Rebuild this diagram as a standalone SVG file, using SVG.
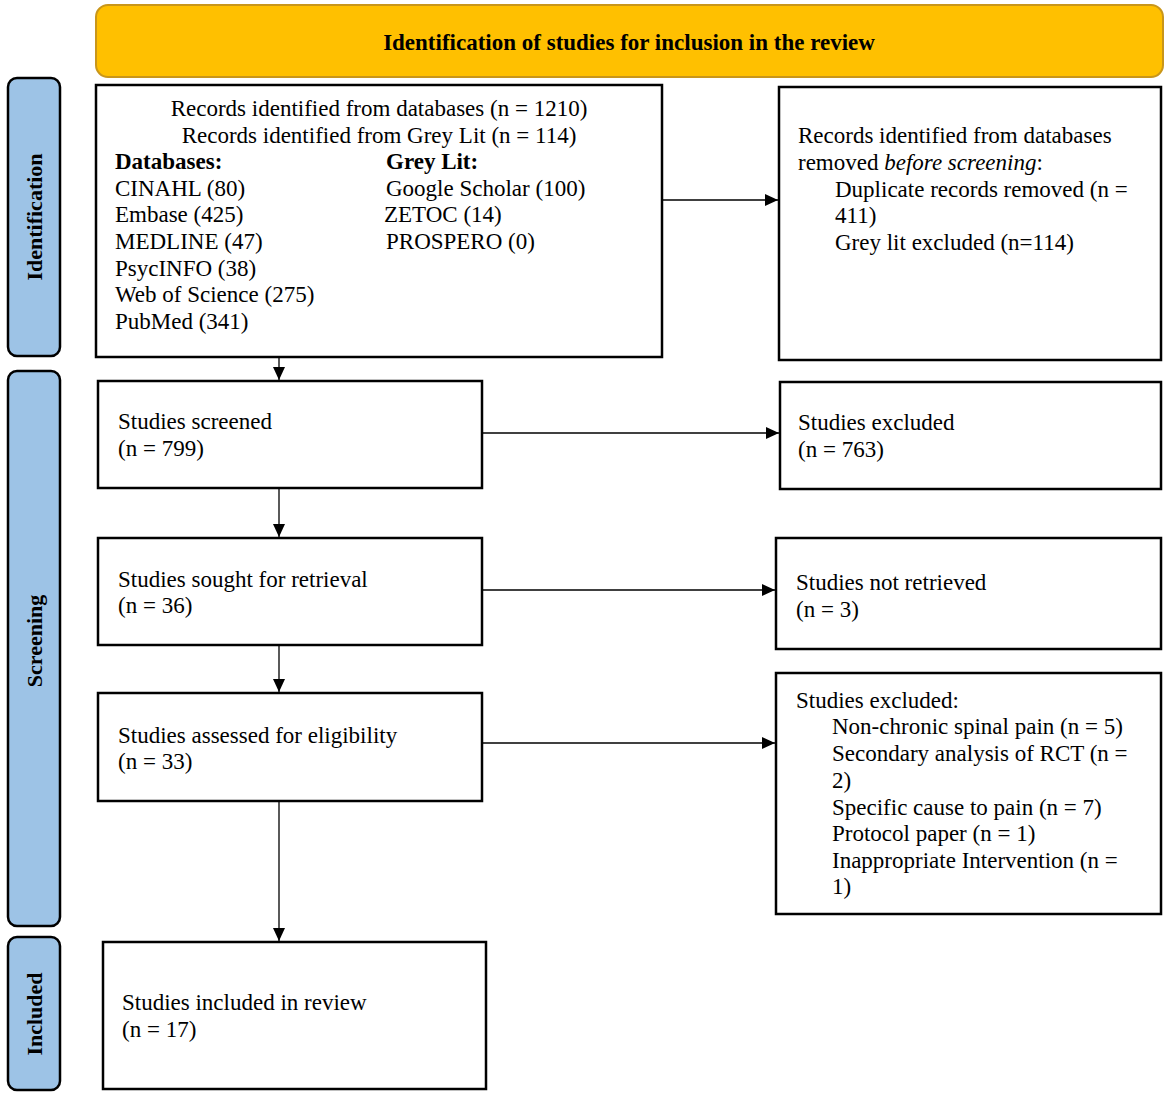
<svg xmlns="http://www.w3.org/2000/svg" width="1170" height="1099" viewBox="0 0 1170 1099">
<style>
text{font-family:"Liberation Serif","Times New Roman",serif;font-size:23px;fill:#000;stroke:none}
.b{font-weight:bold}
.box{fill:#fff;stroke:#000;stroke-width:2.5}
.side rect{fill:#9DC3E6;stroke:#000;stroke-width:2.5}
.side text{font-weight:bold;font-size:22px}
.con line{stroke:#000;stroke-width:1.3}
</style>
<defs>
<marker id="ah" markerWidth="13" markerHeight="12" refX="13" refY="6" orient="auto" markerUnits="userSpaceOnUse">
<path d="M0,0 L13,6 L0,12 Z" fill="#000"/>
</marker>
</defs>
<g id="header">
<rect x="96" y="5" width="1067" height="72" rx="12" fill="#FFC000" stroke="#C9961A" stroke-width="2"/>
<text x="629" y="50" text-anchor="middle" class="b" style="font-size:23px">Identification of studies for inclusion in the review</text>
</g>
<g id="side-identification" class="side">
<rect x="8" y="78" width="52" height="278" rx="9"/>
<text transform="translate(42,217) rotate(-90)" text-anchor="middle">Identification</text>
</g>
<g id="side-screening" class="side">
<rect x="8" y="371" width="52" height="555" rx="9"/>
<text transform="translate(42,641) rotate(-90)" text-anchor="middle">Screening</text>
</g>
<g id="side-included" class="side">
<rect x="8" y="937" width="52" height="153" rx="9"/>
<text transform="translate(42,1014) rotate(-90)" text-anchor="middle">Included</text>
</g>
<g id="records">
<rect class="box" x="96" y="85" width="566" height="272"/>
<text x="379" y="116" text-anchor="middle">Records identified from databases (n = 1210)</text>
<text x="379" y="143" text-anchor="middle">Records identified from Grey Lit (n = 114)</text>
<text x="115" y="169" class="b">Databases:</text>
<text x="115" y="196">CINAHL (80)</text>
<text x="115" y="222">Embase (425)</text>
<text x="115" y="249">MEDLINE (47)</text>
<text x="115" y="276">PsycINFO (38)</text>
<text x="115" y="302">Web of Science (275)</text>
<text x="115" y="329">PubMed (341)</text>
<text x="386" y="169" class="b">Grey Lit:</text>
<text x="386" y="196">Google Scholar (100)</text>
<text x="384" y="222">ZETOC (14)</text>
<text x="386" y="249">PROSPERO (0)</text>
</g>
<g id="removed">
<rect class="box" x="779" y="87" width="382" height="273"/>
<text x="798" y="143">Records identified from databases</text>
<text x="798" y="170">removed <tspan font-style="italic">before screening</tspan>:</text>
<text x="835" y="197">Duplicate records removed (n =</text>
<text x="835" y="223">411)</text>
<text x="835" y="250">Grey lit excluded (n=114)</text>
</g>
<g id="screened">
<rect class="box" x="98" y="381" width="384" height="107"/>
<text x="118" y="429">Studies screened</text>
<text x="118" y="456">(n = 799)</text>
</g>
<g id="excluded1">
<rect class="box" x="780" y="382" width="381" height="107"/>
<text x="798" y="430">Studies excluded</text>
<text x="798" y="457">(n = 763)</text>
</g>
<g id="sought">
<rect class="box" x="98" y="538" width="384" height="107"/>
<text x="118" y="587">Studies sought for retrieval</text>
<text x="118" y="613">(n = 36)</text>
</g>
<g id="notretrieved">
<rect class="box" x="776" y="538" width="385" height="111"/>
<text x="796" y="590">Studies not retrieved</text>
<text x="796" y="617">(n = 3)</text>
</g>
<g id="assessed">
<rect class="box" x="98" y="693" width="384" height="108"/>
<text x="118" y="743">Studies assessed for eligibility</text>
<text x="118" y="769">(n = 33)</text>
</g>
<g id="excluded2">
<rect class="box" x="776" y="673" width="385" height="241"/>
<text x="796" y="708">Studies excluded:</text>
<text x="832" y="734">Non-chronic spinal pain (n = 5)</text>
<text x="832" y="761">Secondary analysis of RCT (n =</text>
<text x="832" y="788">2)</text>
<text x="832" y="815">Specific cause to pain (n = 7)</text>
<text x="832" y="841">Protocol paper (n = 1)</text>
<text x="832" y="868">Inappropriate Intervention (n =</text>
<text x="832" y="894">1)</text>
</g>
<g id="included">
<rect class="box" x="103" y="942" width="383" height="147"/>
<text x="122" y="1010">Studies included in review</text>
<text x="122" y="1037">(n = 17)</text>
</g>
<g id="connectors" class="con">
<line x1="662" y1="200" x2="778" y2="200" marker-end="url(#ah)"/>
<line x1="279" y1="357" x2="279" y2="380" marker-end="url(#ah)"/>
<line x1="482" y1="433" x2="779" y2="433" marker-end="url(#ah)"/>
<line x1="279" y1="488" x2="279" y2="537" marker-end="url(#ah)"/>
<line x1="482" y1="590" x2="775" y2="590" marker-end="url(#ah)"/>
<line x1="279" y1="645" x2="279" y2="692" marker-end="url(#ah)"/>
<line x1="482" y1="743" x2="775" y2="743" marker-end="url(#ah)"/>
<line x1="279" y1="801" x2="279" y2="941" marker-end="url(#ah)"/>
</g>
</svg>
